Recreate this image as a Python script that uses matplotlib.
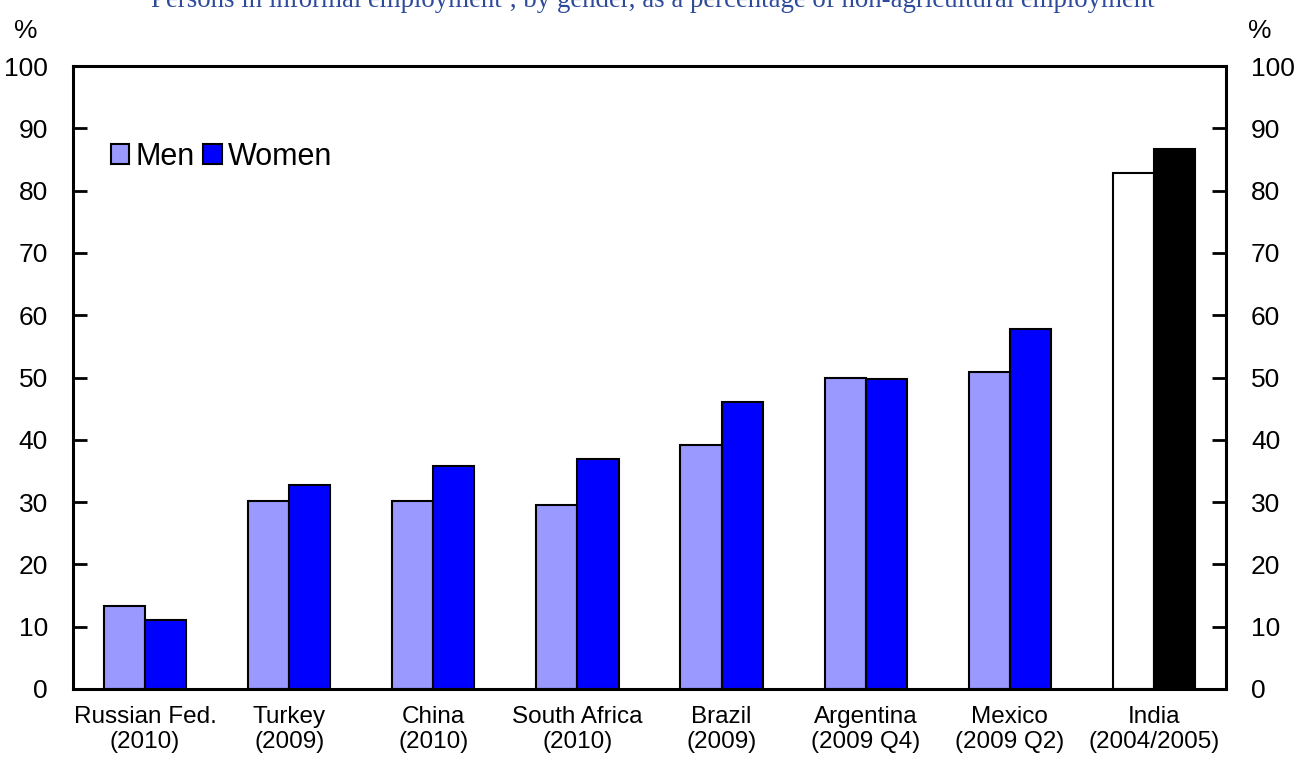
import numpy as np
import matplotlib
matplotlib.use('Agg')
from matplotlib import pyplot as plt
from matplotlib.patches import Patch

countries = ['Russian Fed.\n(2010)', 'Turkey\n(2009)', 'China\n(2010)', 'South Africa\n(2010)',
             'Brazil\n(2009)', 'Argentina\n(2009 Q4)', 'Mexico\n(2009 Q2)', 'India\n(2004/2005)']
men = [13.3, 30.1, 30.2, 29.5, 39.2, 49.9, 50.9, 82.9]
women = [11.0, 32.7, 35.8, 36.9, 46.0, 49.7, 57.8, 86.7]

men_colors = ['#9999FF'] * 7 + ['white']
women_colors = ['#0000FF'] * 7 + ['black']

plt.rcParams['font.family'] = ['Liberation Sans', 'DejaVu Sans']

fig = plt.figure(figsize=(12.97, 7.6), dpi=100)
ax = fig.add_axes([73 / 1297, 1 - 689 / 760, (1226 - 73) / 1297, (689 - 66) / 760])

x = np.arange(len(countries))
w = 0.285
ax.bar(x - w / 2, men, w, color=men_colors, edgecolor='black', linewidth=1.5)
ax.bar(x + w / 2, women, w, color=women_colors, edgecolor='black', linewidth=1.5)

ax.set_xlim(-0.5, len(countries) - 0.5)
ax.set_ylim(0, 100)
ax.set_yticks(range(0, 101, 10))
ax.set_xticks(x)
ax.set_xticklabels(countries, fontsize=17.5, linespacing=1.2)
ax.tick_params(axis='x', length=0, pad=12)
ax.tick_params(axis='y', direction='in', length=10, width=2, labelsize=19,
               right=True, labelright=True, pad=18)
for s in ax.spines.values():
    s.set_linewidth(2.2)

# legend in the upper left corner, small square swatches
handles = [Patch(facecolor='#9999FF', edgecolor='black', linewidth=1.5, label='Men'),
           Patch(facecolor='#0000FF', edgecolor='black', linewidth=1.5, label='Women')]
ax.legend(handles=handles, loc='center left', bbox_to_anchor=(0.022, 0.854), ncol=2,
          frameon=False, handlelength=0.6, handleheight=0.6,
          handletextpad=0.2, columnspacing=0.3, borderaxespad=0,
          prop={'family': ['Liberation Sans', 'DejaVu Sans'], 'size': 22})

fig.text(653 / 1297, 1 - 7 / 760,
         'Persons in informal employment\u00b9, by gender, as a percentage of non-agricultural employment',
         ha='center', va='baseline', fontsize=19.4, color='#2E4A9A',
         family=['Liberation Serif', 'DejaVu Serif'])
fig.text(14 / 1297, 1 - 31 / 760, '%', ha='left', va='center', fontsize=19)
fig.text(1248 / 1297, 1 - 31 / 760, '%', ha='left', va='center', fontsize=19)

fig.savefig('out.png', dpi=100)
